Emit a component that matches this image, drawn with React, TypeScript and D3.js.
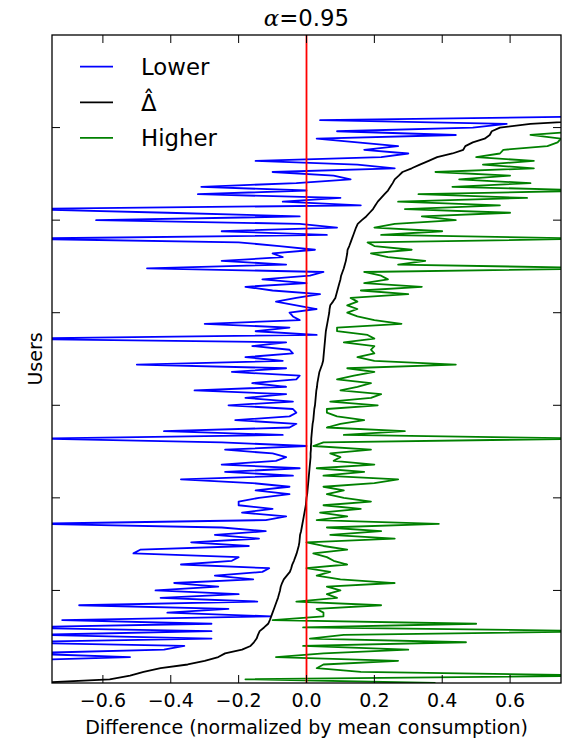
import * as d3 from 'd3';
import React from 'react';

// user index step between the sampled points (users are ranked by delta)
const userStep = 4;

// estimated delta-hat per sampled user (sorted, from bottom to top)
const deltaHat = [
  -0.8, -0.58, -0.52, -0.48, -0.43, -0.35, -0.3, -0.26, -0.24, -0.19,
  -0.165, -0.155, -0.147, -0.143, -0.138, -0.125, -0.113, -0.108, -0.104, -0.1,
  -0.096, -0.092, -0.088, -0.084, -0.081, -0.078, -0.076, -0.072, -0.067, -0.058,
  -0.049, -0.045, -0.042, -0.037, -0.033, -0.029, -0.026, -0.023, -0.021, -0.02,
  -0.019, -0.016, -0.014, -0.012, -0.01, -0.008, -0.006, -0.004, -0.002, -0.001,
  0.0, 0.002, 0.003, 0.004, 0.005, 0.006, 0.007, 0.008, 0.009, 0.01,
  0.011, 0.012, 0.012, 0.013, 0.013, 0.014, 0.014, 0.015, 0.016, 0.017,
  0.018, 0.02, 0.021, 0.022, 0.023, 0.025, 0.026, 0.027, 0.028, 0.029,
  0.031, 0.032, 0.034, 0.036, 0.038, 0.042, 0.046, 0.049, 0.05, 0.051,
  0.052, 0.053, 0.054, 0.055, 0.056, 0.057, 0.059, 0.061, 0.063, 0.065,
  0.067, 0.068, 0.07, 0.078, 0.085, 0.088, 0.091, 0.094, 0.097, 0.1,
  0.102, 0.106, 0.11, 0.113, 0.116, 0.118, 0.12, 0.121, 0.126, 0.13,
  0.134, 0.138, 0.142, 0.146, 0.151, 0.163, 0.176, 0.186, 0.196, 0.203,
  0.21, 0.22, 0.23, 0.24, 0.247, 0.254, 0.26, 0.272, 0.283, 0.31,
  0.334, 0.36, 0.385, 0.43, 0.462, 0.468, 0.49, 0.525, 0.54, 0.546,
  0.57, 0.66, 0.85, 1.1,
];

// lower bound
const lower = [
  -0.95, -1.0, -0.9, -1.1, -0.95, -0.9, -0.9, -0.52, -0.85, -0.42,
  -0.36, -0.9, -0.28, -0.8, -0.28, -0.9, -0.28, -0.72, -0.105, -0.41,
  -0.23, -0.67, -0.145, -0.43, -0.2, -0.445, -0.26, -0.39, -0.157, -0.27,
  -0.13, -0.11, -0.37, -0.22, -0.2, -0.51, -0.49, -0.17, -0.34, -0.14,
  -0.27, -0.12, -0.25, -0.8, -0.12, -0.06, -0.19, -0.1, -0.2, -0.2,
  -0.14, -0.05, -0.15, -0.05, -0.16, -0.37, -0.04, -0.24, -0.02, -0.25,
  -0.09, -0.06, -0.1, -0.24, 0.0, -0.25, -0.8, -0.07, -0.42, -0.05,
  -0.03, -0.21, -0.05, -0.03, -0.04, -0.23, -0.04, -0.18, -0.06, -0.33,
  -0.06, -0.16, -0.03, -0.02, -0.22, -0.06, -0.5, -0.07, -0.18, -0.04,
  -0.05, -0.16, -0.06, -0.9, 0.03, -0.15, -0.05, -0.3, -0.02, -0.04,
  -0.05, 0.03, -0.03, -0.09, -0.03, 0.04, -0.1, -0.18, 0.0, -0.13,
  0.01, 0.05, -0.47, -0.06, -0.25, -0.07, -0.1, 0.025, -0.08, -0.2,
  -0.85, 0.06, -0.25, 0.09, -0.02, -0.62, -0.02, -0.41, -0.85, 0.16,
  -0.07, 0.1, -0.32, 0.0, -0.31, -0.03, 0.13, 0.08, -0.1, 0.26,
  0.15, -0.15, 0.22, 0.3, 0.17, 0.27, 0.15, 0.03, 0.44, 0.09,
  0.49, 0.59, 0.04, 0.85,
];

// higher bound
const higher = [
  0.38, -0.18, 0.9, 0.16, 0.03, 0.05, 0.27, -0.09, 0.05, 0.3,
  -0.01, 0.47, 0.01, 0.11, 0.9, -0.01, 0.5, -0.1, 0.05, 0.05,
  0.03, 0.22, -0.03, 0.09, 0.06, 0.1, 0.06, 0.26, 0.1, 0.03,
  0.07, 0.0, 0.12, 0.08, 0.06, 0.02, 0.12, 0.05, 0.0, 0.26,
  0.07, 0.22, 0.06, 0.39, 0.03, 0.12, 0.04, 0.16, 0.05, 0.19,
  0.11, 0.06, 0.11, 0.05, 0.2, 0.27, 0.05, 0.17, 0.03, 0.2,
  0.08, 0.1, 0.07, 0.19, 0.02, 0.05, 0.85, 0.11, 0.29, 0.06,
  0.1, 0.17, 0.09, 0.06, 0.06, 0.21, 0.07, 0.19, 0.22, 0.1,
  0.15, 0.19, 0.09, 0.14, 0.2, 0.12, 0.44, 0.2, 0.15, 0.2,
  0.19, 0.2, 0.11, 0.2, 0.18, 0.09, 0.09, 0.28, 0.2, 0.15,
  0.12, 0.15, 0.12, 0.15, 0.13, 0.3, 0.16, 0.34, 0.17, 0.24,
  0.22, 0.17, 0.9, 0.27, 0.35, 0.24, 0.19, 0.31, 0.2, 0.18,
  0.85, 0.22, 0.4, 0.2, 0.26, 0.44, 0.34, 0.6, 0.29, 0.57,
  0.27, 0.65, 0.33, 0.85, 0.43, 0.66, 0.45, 0.6, 0.38, 0.67,
  0.52, 0.67, 0.5, 0.57, 0.58, 0.71, 0.74, 0.75, 0.66, 0.8,
  0.9, 1.0, 1.1, 1.2,
];

const xTicks = [-0.6, -0.4, -0.2, 0.0, 0.2, 0.4, 0.6];
const yTicks = [100, 200, 300, 400, 500, 600];

const series = [
  { label: 'Lower', color: '#0000ff', values: lower },
  { label: 'Δ', color: '#000000', values: deltaHat },
  { label: 'Higher', color: '#008000', values: higher },
];

const width = 565,
  height = 740;
const margin = { left: 52, right: 4, top: 35, bottom: 57 };
const font = 'DejaVu Sans, sans-serif';

export default function App() {
  const x = d3
    .scaleLinear()
    .domain([-0.75, 0.75])
    .range([margin.left, width - margin.right]);
  const y = d3
    .scaleLinear()
    .domain([0, 700])
    .range([height - margin.bottom, margin.top]);

  const line = d3
    .line<number>()
    .x((d) => x(d))
    .y((d, i) => y(i * userStep));

  const x0 = margin.left,
    x1 = width - margin.right,
    y0 = margin.top,
    y1 = height - margin.bottom;
  const tickLen = 8;
  const fmt = (v: number) => d3.format('.1f')(v).replace('-', '\u2212');

  return (
    <svg
      width={width}
      height={height}
      style={{ position: 'absolute', left: 0, top: 0, background: '#fff' }}
      fontFamily={font}
    >
      <defs>
        <clipPath id="plotArea">
          <rect x={x0} y={y0} width={x1 - x0} height={y1 - y0} />
        </clipPath>
      </defs>

      <g clipPath="url(#plotArea)" fill="none" strokeWidth={1.8} strokeLinejoin="round">
        {series.map((s) => (
          <path key={s.label} d={line(s.values) ?? ''} stroke={s.color} />
        ))}
        <line x1={x(0)} x2={x(0)} y1={y0} y2={y1} stroke="#ff0000" strokeWidth={1.8} />
      </g>

      {/* ticks on all four sides, pointing inwards */}
      <g stroke="#000" strokeWidth={1}>
        {xTicks.map((t) => (
          <g key={'x' + t}>
            <line x1={x(t)} x2={x(t)} y1={y1} y2={y1 - tickLen} />
            <line x1={x(t)} x2={x(t)} y1={y0} y2={y0 + tickLen} />
          </g>
        ))}
        {yTicks.map((t) => (
          <g key={'y' + t}>
            <line x1={x0} x2={x0 + tickLen} y1={y(t)} y2={y(t)} />
            <line x1={x1} x2={x1 - tickLen} y1={y(t)} y2={y(t)} />
          </g>
        ))}
      </g>

      <rect
        x={x0}
        y={y0}
        width={x1 - x0}
        height={y1 - y0}
        fill="none"
        stroke="#000"
        strokeWidth={1.3}
      />

      {xTicks.map((t) => (
        <text key={'xl' + t} x={x(t)} y={707} textAnchor="middle" fontSize={19}>
          {fmt(t)}
        </text>
      ))}

      <text x={(x0 + x1) / 2} y={734} textAnchor="middle" fontSize={19}>
        Difference (normalized by mean consumption)
      </text>
      <text
        transform={`translate(41.5, ${(y0 + y1) / 2}) rotate(-90)`}
        textAnchor="middle"
        fontSize={19}
      >
        Users
      </text>
      <text x={x(0)} y={26} textAnchor="middle" fontSize={22.8}>
        <tspan fontStyle="italic" fontFamily="DejaVu Serif, serif">α</tspan>
        <tspan>=0.95</tspan>
      </text>

      {/* legend */}
      <g fontSize={22.8}>
        {series.map((s, i) => {
          const ly = 66.7 + i * 35.6;
          return (
            <g key={'lg' + s.label}>
              <line x1={80} x2={113} y1={ly} y2={ly} stroke={s.color} strokeWidth={1.8} />
              {s.label === 'Δ' ? (
                <text x={141} y={ly + 8.5}>
                  <tspan>Δ</tspan>
                  <tspan dx={-13.6} dy={-4}>ˆ</tspan>
                </text>
              ) : (
                <text x={141} y={ly + 8.5}>{s.label}</text>
              )}
            </g>
          );
        })}
      </g>
    </svg>
  );
}
